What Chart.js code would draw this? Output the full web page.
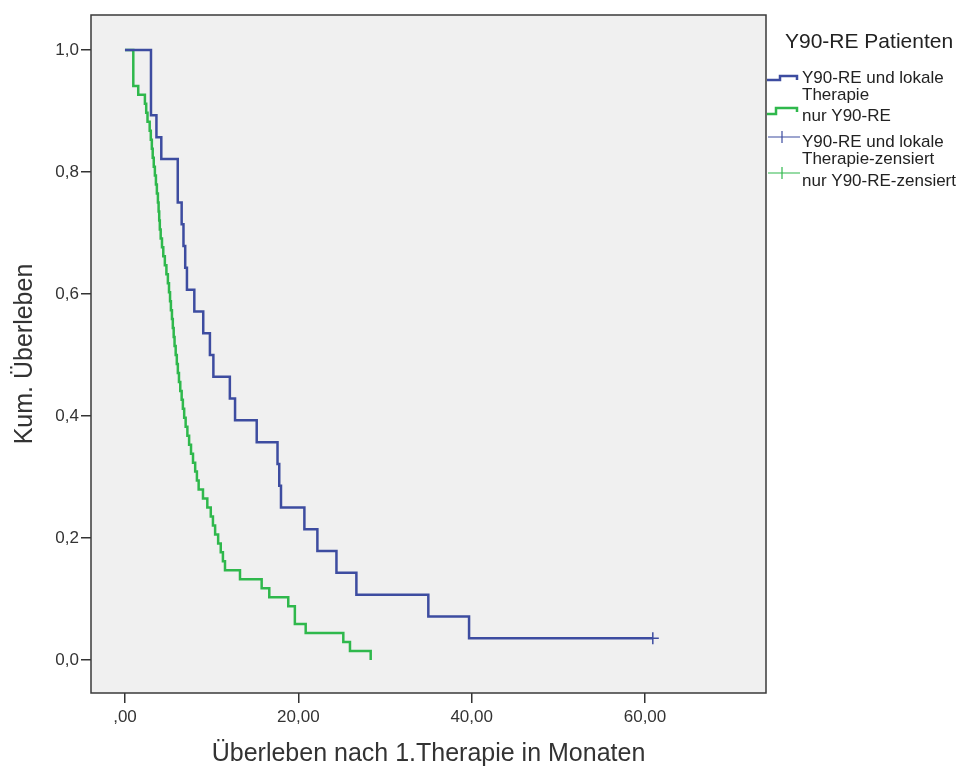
<!DOCTYPE html>
<html>
<head>
<meta charset="utf-8">
<script src="https://cdn.jsdelivr.net/npm/chart.js@4.4.0/dist/chart.umd.min.js"></script>
<style>
body { margin: 0; background: #fff; }
</style>
</head>
<body>
<canvas id="kmChart" width="971" height="769"></canvas>
<script>
// Kaplan-Meier curves
const blueN = 28;
const blueEvents = [3.0, 3.0, 3.0, 3.63, 4.19, 6.09, 6.09, 6.54, 6.75, 6.95, 7.15, 8.0, 9.03, 9.8, 10.2,
    12.1, 12.7, 15.2, 17.6, 17.8, 18.0, 20.7, 22.2, 24.4, 26.7, 35.0, 39.7];
const blueCensored = [60.9];

const greenN = 68;
const greenEvents = [0.96, 0.96, 0.96, 0.96, 1.53,
    2.3, 2.45, 2.6, 2.85, 2.98, 3.1, 3.2, 3.32, 3.45, 3.57, 3.68, 3.8, 3.88, 3.95, 4.02, 4.12,
    4.27, 4.42, 4.6, 4.78, 4.95, 5.08, 5.2, 5.3, 5.42, 5.52, 5.62, 5.72, 5.85, 5.98, 6.1, 6.23,
    6.38, 6.54, 6.68, 6.83, 7.0, 7.2, 7.4, 7.62, 7.85, 8.1, 8.3, 8.5, 9.0, 9.5, 9.9, 10.15,
    10.4, 10.75, 11.05, 11.3, 11.54,
    13.27, 15.77, 16.65, 18.84, 19.6, 19.6, 20.85, 25.19, 25.96, 28.35];
const greenCensored = [];

const xTicks = [0, 20, 40, 60];
const xTickLabels = [',00', '20,00', '40,00', '60,00'];
const yTicks = [0, 0.2, 0.4, 0.6, 0.8, 1.0];
const yTickLabels = ['0,0', '0,2', '0,4', '0,6', '0,8', '1,0'];

const legendTitle = 'Y90-RE Patienten';
const legendLabels = [
    ['Y90-RE und lokale', 'Therapie'],
    ['nur Y90-RE'],
    ['Y90-RE und lokale', 'Therapie-zensiert'],
    ['nur Y90-RE-zensiert']
];

const blueColor = '#3d4ca0';
const greenColor = '#2fb84c';
const fontFamily = '"Liberation Sans", Arial, sans-serif';

function kmSteps(n, events, censored) {
    const all = events.concat(censored);
    const times = [...new Set(all)].sort((a, b) => a - b);
    let atRisk = n, s = 1;
    const line = [{ x: 0, y: 1 }];
    const cens = [];
    times.forEach(t => {
        const d = events.filter(e => e === t).length;
        const c = censored.filter(e => e === t).length;
        if (d > 0) {
            s = s * (1 - d / atRisk);
            line.push({ x: t, y: s });
        }
        if (c > 0) cens.push({ x: t, y: s });
        atRisk -= d + c;
    });
    const last = times[times.length - 1];
    if (line[line.length - 1].x < last) line.push({ x: last, y: s });
    return { line, cens };
}

const blueKM = kmSteps(blueN, blueEvents, blueCensored);
const greenKM = kmSteps(greenN, greenEvents, greenCensored);

// plot background and frame
const framePlugin = {
    id: 'frame',
    beforeDraw(chart) {
        const a = chart.chartArea, ctx = chart.ctx;
        ctx.save();
        ctx.fillStyle = '#f0f0f0';
        ctx.fillRect(a.left, a.top, a.right - a.left, a.bottom - a.top);
        ctx.restore();
    },
    afterDraw(chart) {
        const a = chart.chartArea, ctx = chart.ctx;
        ctx.save();
        ctx.strokeStyle = '#3a3a3a';
        ctx.lineWidth = 1.5;
        ctx.strokeRect(a.left, a.top, a.right - a.left, a.bottom - a.top);
        ctx.restore();
    }
};

// SPSS style legend on the right
const legendPlugin = {
    id: 'kmLegend',
    afterDraw(chart) {
        const ctx = chart.ctx;
        ctx.save();
        ctx.fillStyle = '#222';
        ctx.textBaseline = 'alphabetic';
        ctx.font = '21px ' + fontFamily;
        ctx.fillText(legendTitle, 785, 48);

        ctx.font = '17px ' + fontFamily;
        const baselines = [[83, 100], [121], [147, 164], [186]];
        legendLabels.forEach((lines, i) => {
            lines.forEach((txt, j) => ctx.fillText(txt, 802, baselines[i][j]));
        });

        ctx.lineWidth = 2.5;
        // step icons
        ctx.strokeStyle = blueColor;
        ctx.beginPath();
        ctx.moveTo(767, 80); ctx.lineTo(780, 80); ctx.lineTo(780, 76);
        ctx.lineTo(797, 76); ctx.lineTo(797, 80);
        ctx.stroke();
        ctx.strokeStyle = greenColor;
        ctx.beginPath();
        ctx.moveTo(767, 114); ctx.lineTo(776, 114); ctx.lineTo(776, 108);
        ctx.lineTo(797, 108); ctx.lineTo(797, 112);
        ctx.stroke();
        // censor icons
        ctx.lineWidth = 1.2;
        [[blueColor, 137], [greenColor, 173]].forEach(([col, y]) => {
            ctx.strokeStyle = col;
            ctx.beginPath();
            ctx.moveTo(768, y); ctx.lineTo(800, y);
            ctx.moveTo(782, y - 6); ctx.lineTo(782, y + 6);
            ctx.stroke();
        });
        ctx.restore();
    }
};

const ctx = document.getElementById('kmChart').getContext('2d');
new Chart(ctx, {
    type: 'line',
    data: {
        datasets: [{
            label: legendLabels[0].join(' '),
            data: blueKM.line,
            borderColor: blueColor,
            borderWidth: 2.5,
            stepped: 'before',
            pointRadius: 0,
            fill: false
        }, {
            label: legendLabels[1].join(' '),
            data: greenKM.line,
            borderColor: greenColor,
            borderWidth: 2.5,
            stepped: 'before',
            pointRadius: 0,
            fill: false
        }, {
            label: legendLabels[2].join(' '),
            data: blueKM.cens,
            showLine: false,
            pointStyle: 'cross',
            pointRadius: 6,
            borderColor: blueColor,
            borderWidth: 1.5
        }, {
            label: legendLabels[3].join(' '),
            data: greenKM.cens,
            showLine: false,
            pointStyle: 'cross',
            pointRadius: 6,
            borderColor: greenColor,
            borderWidth: 1.5
        }]
    },
    options: {
        responsive: false,
        animation: false,
        layout: { padding: { left: 0, right: 205, top: 15, bottom: 0 } },
        plugins: {
            legend: { display: false },
            tooltip: { enabled: false }
        },
        scales: {
            x: {
                type: 'linear',
                min: -3.92,
                max: 73.96,
                afterBuildTicks: scale => { scale.ticks = xTicks.map(v => ({ value: v })); },
                afterFit: scale => { scale.height = 76; },
                ticks: {
                    callback: (value, index) => xTickLabels[index],
                    color: '#333',
                    font: { size: 17, family: fontFamily },
                    padding: 4,
                    maxRotation: 0
                },
                grid: { drawOnChartArea: false, tickLength: 10, color: '#333', lineWidth: 1.5 },
                border: { display: false },
                title: {
                    display: true,
                    text: 'Überleben nach 1.Therapie in Monaten',
                    color: '#333',
                    font: { size: 25, family: fontFamily, lineHeight: 1 },
                    padding: { top: 0, bottom: 2 }
                }
            },
            y: {
                type: 'linear',
                min: -0.0541,
                max: 1.0574,
                afterBuildTicks: scale => { scale.ticks = yTicks.map(v => ({ value: v })); },
                afterFit: scale => { scale.width = 91; },
                ticks: {
                    callback: (value, index) => yTickLabels[index],
                    color: '#333',
                    font: { size: 17, family: fontFamily },
                    padding: 2
                },
                grid: { drawOnChartArea: false, tickLength: 10, color: '#333', lineWidth: 1.5 },
                border: { display: false },
                title: {
                    display: true,
                    text: 'Kum. Überleben',
                    color: '#333',
                    font: { size: 25, family: fontFamily, lineHeight: 1 },
                    padding: { top: 13, bottom: 0 }
                }
            }
        }
    },
    plugins: [framePlugin, legendPlugin]
});
</script>
</body>
</html>
